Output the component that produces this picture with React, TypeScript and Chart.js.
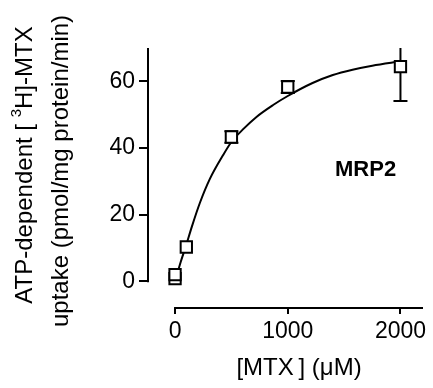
import React, { useEffect, useRef } from "react";
import { Chart, registerables } from "chart.js";

Chart.register(...registerables);

// ---- data ----
const concentrations = [0, 0, 100, 500, 1000, 2000];
const uptake = [0.8, 2.0, 10.3, 43.3, 58.3, 64.4];
const uptakeError = [0, 0, 0, 1.7, 1.8, 10.3];

const fitX = [0, 50, 100, 150, 220, 310, 425, 500, 600, 725, 870, 1000, 1220, 1400, 1575, 1750, 2000];
const fitY = [0, 5.8, 11, 16.5, 23.5, 30.8, 37.8, 41.8, 45.5, 49.4, 52.9, 55.6, 59.5, 61.9, 63.5, 64.7, 66];

const xTicks = [0, 1000, 2000];
const yTicks = [0, 20, 40, 60];

const xTitle = "[MTX\u2009] (μM)";
const yTitle1Start = "ATP-dependent [ ";
const yTitle1Sup = "3";
const yTitle1End = "H]-MTX";
const yTitle2 = "uptake (pmol/mg protein/min)";
const panelLabel = "MRP2";

const FONT = "'Liberation Sans', Arial, Helvetica, sans-serif";

const decorations = {
  id: "decorations",
  beforeDatasetsDraw(chart: any) {
    const { ctx, chartArea } = chart;
    const xs = chart.scales.x;
    const ys = chart.scales.y;
    ctx.save();
    ctx.strokeStyle = "#000";
    ctx.lineWidth = 2;
    ctx.lineCap = "butt";
    // axis lines
    ctx.beginPath();
    ctx.moveTo(xs.getPixelForValue(0) - 1, chartArea.bottom);
    ctx.lineTo(chartArea.right, chartArea.bottom);
    ctx.moveTo(chartArea.left, chartArea.top);
    ctx.lineTo(chartArea.left, ys.getPixelForValue(0) + 1);
    ctx.stroke();
    // error bars
    const cap = 7;
    concentrations.forEach((c, i) => {
      if (!uptakeError[i]) return;
      const px = xs.getPixelForValue(c);
      const rawTop = ys.getPixelForValue(uptake[i] + uptakeError[i]);
      const top = Math.max(chartArea.top, rawTop);
      const bot = ys.getPixelForValue(uptake[i] - uptakeError[i]);
      ctx.beginPath();
      ctx.moveTo(px, top);
      ctx.lineTo(px, bot);
      ctx.moveTo(px - cap, bot);
      ctx.lineTo(px + cap, bot);
      if (rawTop >= chartArea.top) {
        ctx.moveTo(px - cap, top);
        ctx.lineTo(px + cap, top);
      }
      ctx.stroke();
    });
    ctx.restore();
  },
  afterDraw(chart: any) {
    const { ctx } = chart;
    const xs = chart.scales.x;
    ctx.save();
    ctx.fillStyle = "#000";
    // x title
    ctx.font = `24px ${FONT}`;
    ctx.textAlign = "center";
    ctx.textBaseline = "middle";
    const xCenter = (xs.getPixelForValue(0) + chart.chartArea.right) / 2;
    ctx.fillText(xTitle, xCenter, 368);

    // y title (rotated)
    ctx.save();
    ctx.rotate(-Math.PI / 2);
    const cy = 165;
    ctx.font = `24px ${FONT}`;
    const w1 = ctx.measureText(yTitle1Start).width;
    ctx.font = `15px ${FONT}`;
    const w2 = ctx.measureText(yTitle1Sup).width;
    ctx.font = `24px ${FONT}`;
    const w3 = ctx.measureText(yTitle1End).width;
    const total = w1 + w2 + w3;
    let sx = -cy - total / 2;
    const line1Y = 25;
    ctx.textAlign = "left";
    ctx.textBaseline = "middle";
    ctx.fillText(yTitle1Start, sx, line1Y);
    sx += w1;
    ctx.font = `15px ${FONT}`;
    ctx.fillText(yTitle1Sup, sx, line1Y - 8);
    sx += w2;
    ctx.font = `24px ${FONT}`;
    ctx.fillText(yTitle1End, sx, line1Y);
    ctx.textAlign = "center";
    ctx.fillText(yTitle2, -cy - 6, 61);
    ctx.restore();

    // panel label
    ctx.font = `bold 22px ${FONT}`;
    ctx.textAlign = "left";
    ctx.textBaseline = "middle";
    ctx.fillText(panelLabel, 335, 170);
    ctx.restore();
  },
};

export default function App() {
  const canvasRef = useRef<HTMLCanvasElement | null>(null);

  useEffect(() => {
    if (!canvasRef.current) return;
    const chart = new Chart(canvasRef.current, {
      type: "scatter",
      data: {
        datasets: [
          {
            label: "MRP2",
            data: concentrations.map((c, i) => ({ x: c, y: uptake[i] })),
            pointStyle: "rect",
            pointRadius: 8,
            pointBorderWidth: 2,
            pointBackgroundColor: "#fff",
            pointBorderColor: "#000",
            showLine: false,
            order: 0,
          },
          {
            type: "line",
            label: "fit",
            data: fitX.map((x, i) => ({ x, y: fitY[i] })),
            borderColor: "#000",
            borderWidth: 2,
            pointRadius: 0,
            cubicInterpolationMode: "monotone",
            fill: false,
            order: 1,
          },
        ],
      } as any,
      options: {
        responsive: false,
        animation: false,
        layout: { padding: { top: 48, right: 9, left: 0, bottom: 0 } },
        plugins: {
          legend: { display: false },
          tooltip: { enabled: false },
          title: { display: false },
        },
        scales: {
          x: {
            type: "linear",
            min: -240,
            max: 2200,
            afterBuildTicks: (scale: any) => {
              scale.ticks = xTicks.map((v) => ({ value: v }));
            },
            afterFit: (scale: any) => {
              scale.height = 80;
            },
            border: { display: false },
            grid: {
              display: true,
              drawOnChartArea: false,
              drawTicks: true,
              tickLength: 6,
              color: "#000",
              lineWidth: 2,
            },
            ticks: {
              color: "#000",
              font: { family: FONT, size: 23 },
              padding: 4,
              maxRotation: 0,
              autoSkip: false,
              callback: (v: any) => String(v),
            },
          },
          y: {
            type: "linear",
            min: -8,
            max: 70,
            afterBuildTicks: (scale: any) => {
              scale.ticks = yTicks.map((v) => ({ value: v }));
            },
            afterFit: (scale: any) => {
              scale.width = 148;
            },
            border: { display: false },
            grid: {
              display: true,
              drawOnChartArea: false,
              drawTicks: true,
              tickLength: 9,
              color: "#000",
              lineWidth: 2,
            },
            ticks: {
              color: "#000",
              font: { family: FONT, size: 23 },
              padding: 4,
              autoSkip: false,
              callback: (v: any) => String(v),
            },
          },
        },
      },
      plugins: [decorations],
    } as any);
    return () => chart.destroy();
  }, []);

  return (
    <div style={{ position: "absolute", left: 0, top: 0, width: 433, height: 388, background: "#fff" }}>
      <canvas ref={canvasRef} width={433} height={388} style={{ display: "block" }} />
    </div>
  );
}
